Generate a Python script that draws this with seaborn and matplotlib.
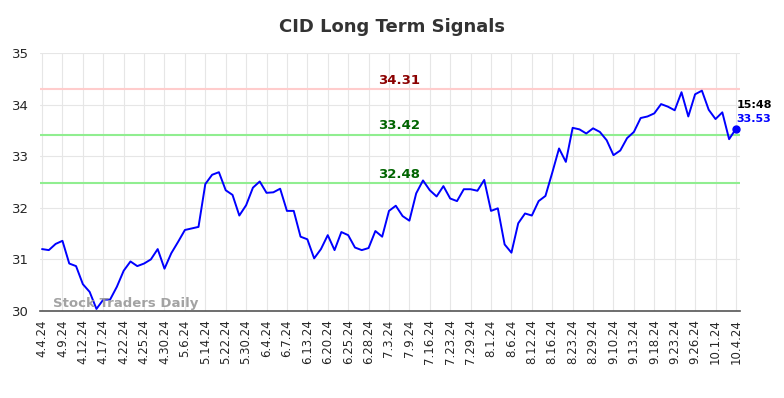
import matplotlib
matplotlib.use("Agg")
import matplotlib.pyplot as plt
import seaborn as sns
import pandas as pd
import numpy as np

tick_labels = ["4.4.24", "4.9.24", "4.12.24", "4.17.24", "4.22.24", "4.25.24", "4.30.24",
               "5.6.24", "5.14.24", "5.22.24", "5.30.24", "6.4.24", "6.7.24", "6.13.24",
               "6.20.24", "6.25.24", "6.28.24", "7.3.24", "7.9.24", "7.16.24", "7.23.24",
               "7.29.24", "8.1.24", "8.6.24", "8.12.24", "8.16.24", "8.23.24", "8.29.24",
               "9.10.24", "9.13.24", "9.18.24", "9.23.24", "9.26.24", "10.1.24", "10.4.24"]

prices = [31.20, 31.18, 31.30, 31.36, 30.92, 30.87, 30.52, 30.37, 30.04, 30.22,
          30.22, 30.47, 30.78, 30.96, 30.87, 30.92, 31.00, 31.20, 30.82, 31.12,
          31.34, 31.57, 31.60, 31.63, 32.46, 32.64, 32.69, 32.34, 32.25, 31.85,
          32.05, 32.39, 32.51, 32.29, 32.30, 32.37, 31.94, 31.94, 31.44, 31.39,
          31.02, 31.20, 31.47, 31.18, 31.53, 31.47, 31.23, 31.18, 31.22, 31.55,
          31.44, 31.94, 32.04, 31.84, 31.75, 32.28, 32.53, 32.34, 32.22, 32.42,
          32.18, 32.13, 32.36, 32.36, 32.33, 32.54, 31.94, 31.99, 31.29, 31.13,
          31.70, 31.89, 31.85, 32.13, 32.23, 32.68, 33.15, 32.89, 33.55, 33.52,
          33.44, 33.54, 33.47, 33.31, 33.02, 33.11, 33.35, 33.47, 33.74, 33.77,
          33.83, 34.01, 33.96, 33.89, 34.24, 33.77, 34.20, 34.27, 33.90, 33.72,
          33.85, 33.33, 33.53]

levels = [34.31, 33.42, 32.48]
level_colors = ["#ffcccc", "#90ee90", "#90ee90"]
level_text_colors = ["#8b0000", "#006400", "#006400"]
last_time = "15:48"

sns.set_style("whitegrid")
plt.rcParams['font.family'] = ['DejaVu Sans']

df = pd.DataFrame({"idx": np.arange(len(prices)), "price": prices})

fig = plt.figure(figsize=(7.84, 3.98), dpi=100)
ax = fig.add_axes([40/784, 1-311/398, 700/784, 258/398])

for lv, c in zip(levels, level_colors):
    ax.axhline(lv, color=c, lw=1.5, zorder=1)

sns.lineplot(data=df, x="idx", y="price", ax=ax, color="#0000ff", lw=1.4, zorder=3)

n = len(prices)
ax.plot([n-1], [prices[-1]], "o", color="#0000ff", ms=5, zorder=4)

label_x = 52.5
for lv, tc in zip(levels, level_text_colors):
    ax.text(label_x, lv + 0.04, f"{lv:.2f}", color=tc, fontsize=9.5, fontweight="bold",
            ha="center", va="bottom")

ax.text(n - 1 + 0.1, prices[-1] + 0.47, last_time, color="black", fontsize=8,
        fontweight="bold", ha="left", va="center")
ax.text(n - 1 + 0.1, prices[-1] + 0.2, f"{prices[-1]:.2f}", color="#0000ff", fontsize=8,
        fontweight="bold", ha="left", va="center")

ax.text(0.018, 0.005, "Stock Traders Daily", transform=ax.transAxes, color="#999999",
        fontsize=9.5, fontweight="bold", alpha=0.9, ha="left", va="bottom")

ax.set_xlim(-0.3, 102.6)
ax.set_ylim(30, 35)
ax.set_xticks(np.arange(0, n, 3))
ax.set_xticklabels(tick_labels, rotation=90, fontsize=8.5)
ax.set_yticks([30, 31, 32, 33, 34, 35])
ax.tick_params(axis="y", labelsize=9.5, length=0, pad=8)
ax.tick_params(axis="x", length=0, pad=6)
ax.set_xlabel("")
ax.set_ylabel("")
ax.grid(True, color="#e6e6e6", lw=0.8)
for s in ["top", "right", "left"]:
    ax.spines[s].set_visible(False)
ax.spines["bottom"].set_color("#555555")
ax.spines["bottom"].set_linewidth(1.2)

fig.suptitle("CID Long Term Signals", x=0.5, y=0.955, fontsize=13, fontweight="bold", color="#333333")

fig.savefig("out.png", dpi=100)
